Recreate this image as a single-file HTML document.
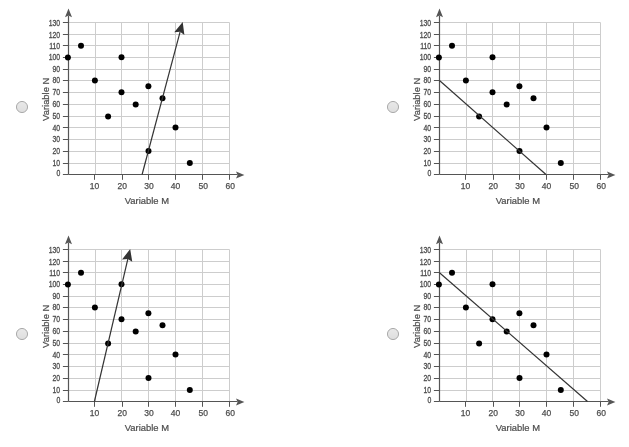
<!DOCTYPE html>
<html><head><meta charset="utf-8"><style>
html,body{margin:0;padding:0;background:#fff;width:629px;height:447px;overflow:hidden}
svg{display:block;will-change:transform}
.t{font-family:"Liberation Sans",sans-serif;font-size:8.3px;fill:#4d4d4d;stroke:#4d4d4d;stroke-width:0.3px}
.x{font-family:"Liberation Sans",sans-serif;font-size:8.5px;fill:#4d4d4d;stroke:#4d4d4d;stroke-width:0.25px}
.l{font-family:"Liberation Sans",sans-serif;font-size:9.3px;fill:#4d4d4d;stroke:#4d4d4d;stroke-width:0.22px}
</style></head><body>
<svg width="629" height="447" viewBox="0 0 629 447">
<defs><linearGradient id="rg" x1="0" y1="0" x2="0" y2="1"><stop offset="0" stop-color="#e9e9e9"/><stop offset="1" stop-color="#dedede"/></linearGradient></defs>
<g transform="translate(0,0)">
<path d="M95.5,174.5V22.5M121.5,174.5V22.5M148.5,174.5V22.5M175.5,174.5V22.5M202.5,174.5V22.5M229.5,174.5V22.5M68.5,163.5H229.5M68.5,151.5H229.5M68.5,139.5H229.5M68.5,127.5H229.5M68.5,116.5H229.5M68.5,104.5H229.5M68.5,92.5H229.5M68.5,80.5H229.5M68.5,69.5H229.5M68.5,57.5H229.5M68.5,45.5H229.5M68.5,34.5H229.5M68.5,22.5H229.5" stroke="#cdcdcd" stroke-width="1" fill="none"/>
<path d="M94.5,174.5V179.8M122.5,174.5V179.8M148.5,174.5V179.8M175.5,174.5V179.8M202.5,174.5V179.8M229.5,174.5V179.8M62.9,174.5H68.5M62.9,163.5H68.5M62.9,151.5H68.5M62.9,139.5H68.5M62.9,127.5H68.5M62.9,116.5H68.5M62.9,104.5H68.5M62.9,92.5H68.5M62.9,80.5H68.5M62.9,69.5H68.5M62.9,57.5H68.5M62.9,45.5H68.5M62.9,34.5H68.5M62.9,22.5H68.5" stroke="#555" stroke-width="1" fill="none"/>
<path d="M68.5,174.5V15.5M68.5,174.5H237.5" stroke="#555" stroke-width="1.2" fill="none"/>
<path d="M68.5,8.5L72,17.2L68.5,15.6L65,17.2Z" fill="#555"/>
<path d="M244.4,175L236,171.5L237.6,175L236,178.5Z" fill="#555"/>
<text transform="translate(60.2,176.07) scale(0.83,1)" text-anchor="end" class="t">0</text>
<text transform="translate(60.2,165.77) scale(0.83,1)" text-anchor="end" class="t">10</text>
<text transform="translate(60.2,154.07) scale(0.83,1)" text-anchor="end" class="t">20</text>
<text transform="translate(60.2,142.27) scale(0.83,1)" text-anchor="end" class="t">30</text>
<text transform="translate(60.2,130.57) scale(0.83,1)" text-anchor="end" class="t">40</text>
<text transform="translate(60.2,119.17) scale(0.83,1)" text-anchor="end" class="t">50</text>
<text transform="translate(60.2,107.27) scale(0.83,1)" text-anchor="end" class="t">60</text>
<text transform="translate(60.2,95.27) scale(0.83,1)" text-anchor="end" class="t">70</text>
<text transform="translate(60.2,83.27) scale(0.83,1)" text-anchor="end" class="t">80</text>
<text transform="translate(60.2,71.97) scale(0.83,1)" text-anchor="end" class="t">90</text>
<text transform="translate(60.2,59.97) scale(0.83,1)" text-anchor="end" class="t">100</text>
<text transform="translate(60.2,48.77) scale(0.83,1)" text-anchor="end" class="t">110</text>
<text transform="translate(60.2,37.67) scale(0.83,1)" text-anchor="end" class="t">120</text>
<text transform="translate(60.2,25.87) scale(0.83,1)" text-anchor="end" class="t">130</text>
<text x="94.6" y="189.2" text-anchor="middle" class="x">10</text>
<text x="122.2" y="189.2" text-anchor="middle" class="x">20</text>
<text x="149.1" y="189.2" text-anchor="middle" class="x">30</text>
<text x="175.4" y="189.2" text-anchor="middle" class="x">40</text>
<text x="203.3" y="189.2" text-anchor="middle" class="x">50</text>
<text x="230.2" y="189.2" text-anchor="middle" class="x">60</text>
<text x="146.9" y="203.9" text-anchor="middle" class="l" style="font-size:9.8px" textLength="44.2" lengthAdjust="spacingAndGlyphs">Variable M</text>
<text transform="translate(49.4,99.3) rotate(-90)" text-anchor="middle" class="l" style="font-size:9.5px" textLength="43.2" lengthAdjust="spacingAndGlyphs">Variable N</text>
<circle cx="67.9" cy="57.4" r="3" fill="#000"/>
<circle cx="81" cy="45.8" r="3" fill="#000"/>
<circle cx="94.9" cy="80.6" r="3" fill="#000"/>
<circle cx="108.1" cy="116.4" r="3" fill="#000"/>
<circle cx="121.5" cy="57.3" r="3" fill="#000"/>
<circle cx="121.5" cy="92.3" r="3" fill="#000"/>
<circle cx="135.7" cy="104.4" r="3" fill="#000"/>
<circle cx="148.4" cy="86.2" r="3" fill="#000"/>
<circle cx="148.5" cy="151.1" r="3" fill="#000"/>
<circle cx="162.5" cy="98.3" r="3" fill="#000"/>
<circle cx="175.5" cy="127.5" r="3" fill="#000"/>
<circle cx="189.8" cy="163" r="3" fill="#000"/>
<path d="M142.1,174.5L180.08,31.87" stroke="#333" stroke-width="1.2" fill="none"/>
<path d="M182.7,22.01L184.4,34.88L180.08,31.87L174.25,32.18Z" fill="#333"/>
</g>
<g transform="translate(371,0)">
<path d="M95.5,174.5V22.5M121.5,174.5V22.5M148.5,174.5V22.5M175.5,174.5V22.5M202.5,174.5V22.5M229.5,174.5V22.5M68.5,163.5H229.5M68.5,151.5H229.5M68.5,139.5H229.5M68.5,127.5H229.5M68.5,116.5H229.5M68.5,104.5H229.5M68.5,92.5H229.5M68.5,80.5H229.5M68.5,69.5H229.5M68.5,57.5H229.5M68.5,45.5H229.5M68.5,34.5H229.5M68.5,22.5H229.5" stroke="#cdcdcd" stroke-width="1" fill="none"/>
<path d="M94.5,174.5V179.8M122.5,174.5V179.8M148.5,174.5V179.8M175.5,174.5V179.8M202.5,174.5V179.8M229.5,174.5V179.8M62.9,174.5H68.5M62.9,163.5H68.5M62.9,151.5H68.5M62.9,139.5H68.5M62.9,127.5H68.5M62.9,116.5H68.5M62.9,104.5H68.5M62.9,92.5H68.5M62.9,80.5H68.5M62.9,69.5H68.5M62.9,57.5H68.5M62.9,45.5H68.5M62.9,34.5H68.5M62.9,22.5H68.5" stroke="#555" stroke-width="1" fill="none"/>
<path d="M68.5,174.5V15.5M68.5,174.5H237.5" stroke="#555" stroke-width="1.2" fill="none"/>
<path d="M68.5,8.5L72,17.2L68.5,15.6L65,17.2Z" fill="#555"/>
<path d="M244.4,175L236,171.5L237.6,175L236,178.5Z" fill="#555"/>
<text transform="translate(60.2,176.07) scale(0.83,1)" text-anchor="end" class="t">0</text>
<text transform="translate(60.2,165.77) scale(0.83,1)" text-anchor="end" class="t">10</text>
<text transform="translate(60.2,154.07) scale(0.83,1)" text-anchor="end" class="t">20</text>
<text transform="translate(60.2,142.27) scale(0.83,1)" text-anchor="end" class="t">30</text>
<text transform="translate(60.2,130.57) scale(0.83,1)" text-anchor="end" class="t">40</text>
<text transform="translate(60.2,119.17) scale(0.83,1)" text-anchor="end" class="t">50</text>
<text transform="translate(60.2,107.27) scale(0.83,1)" text-anchor="end" class="t">60</text>
<text transform="translate(60.2,95.27) scale(0.83,1)" text-anchor="end" class="t">70</text>
<text transform="translate(60.2,83.27) scale(0.83,1)" text-anchor="end" class="t">80</text>
<text transform="translate(60.2,71.97) scale(0.83,1)" text-anchor="end" class="t">90</text>
<text transform="translate(60.2,59.97) scale(0.83,1)" text-anchor="end" class="t">100</text>
<text transform="translate(60.2,48.77) scale(0.83,1)" text-anchor="end" class="t">110</text>
<text transform="translate(60.2,37.67) scale(0.83,1)" text-anchor="end" class="t">120</text>
<text transform="translate(60.2,25.87) scale(0.83,1)" text-anchor="end" class="t">130</text>
<text x="94.6" y="189.2" text-anchor="middle" class="x">10</text>
<text x="122.2" y="189.2" text-anchor="middle" class="x">20</text>
<text x="149.1" y="189.2" text-anchor="middle" class="x">30</text>
<text x="175.4" y="189.2" text-anchor="middle" class="x">40</text>
<text x="203.3" y="189.2" text-anchor="middle" class="x">50</text>
<text x="230.2" y="189.2" text-anchor="middle" class="x">60</text>
<text x="146.9" y="203.9" text-anchor="middle" class="l" style="font-size:9.8px" textLength="44.2" lengthAdjust="spacingAndGlyphs">Variable M</text>
<text transform="translate(49.4,99.3) rotate(-90)" text-anchor="middle" class="l" style="font-size:9.5px" textLength="43.2" lengthAdjust="spacingAndGlyphs">Variable N</text>
<circle cx="67.9" cy="57.4" r="3" fill="#000"/>
<circle cx="81" cy="45.8" r="3" fill="#000"/>
<circle cx="94.9" cy="80.6" r="3" fill="#000"/>
<circle cx="108.1" cy="116.4" r="3" fill="#000"/>
<circle cx="121.5" cy="57.3" r="3" fill="#000"/>
<circle cx="121.5" cy="92.3" r="3" fill="#000"/>
<circle cx="135.7" cy="104.4" r="3" fill="#000"/>
<circle cx="148.4" cy="86.2" r="3" fill="#000"/>
<circle cx="148.5" cy="151.1" r="3" fill="#000"/>
<circle cx="162.5" cy="98.3" r="3" fill="#000"/>
<circle cx="175.5" cy="127.5" r="3" fill="#000"/>
<circle cx="189.8" cy="163" r="3" fill="#000"/>
<path d="M68.5,80.5L175,174.5" stroke="#333" stroke-width="1.2" fill="none"/>
</g>
<g transform="translate(0,227)">
<path d="M95.5,174.5V22.5M121.5,174.5V22.5M148.5,174.5V22.5M175.5,174.5V22.5M202.5,174.5V22.5M229.5,174.5V22.5M68.5,163.5H229.5M68.5,151.5H229.5M68.5,139.5H229.5M68.5,127.5H229.5M68.5,116.5H229.5M68.5,104.5H229.5M68.5,92.5H229.5M68.5,80.5H229.5M68.5,69.5H229.5M68.5,57.5H229.5M68.5,45.5H229.5M68.5,34.5H229.5M68.5,22.5H229.5" stroke="#cdcdcd" stroke-width="1" fill="none"/>
<path d="M94.5,174.5V179.8M122.5,174.5V179.8M148.5,174.5V179.8M175.5,174.5V179.8M202.5,174.5V179.8M229.5,174.5V179.8M62.9,174.5H68.5M62.9,163.5H68.5M62.9,151.5H68.5M62.9,139.5H68.5M62.9,127.5H68.5M62.9,116.5H68.5M62.9,104.5H68.5M62.9,92.5H68.5M62.9,80.5H68.5M62.9,69.5H68.5M62.9,57.5H68.5M62.9,45.5H68.5M62.9,34.5H68.5M62.9,22.5H68.5" stroke="#555" stroke-width="1" fill="none"/>
<path d="M68.5,174.5V15.5M68.5,174.5H237.5" stroke="#555" stroke-width="1.2" fill="none"/>
<path d="M68.5,8.5L72,17.2L68.5,15.6L65,17.2Z" fill="#555"/>
<path d="M244.4,175L236,171.5L237.6,175L236,178.5Z" fill="#555"/>
<text transform="translate(60.2,176.07) scale(0.83,1)" text-anchor="end" class="t">0</text>
<text transform="translate(60.2,165.77) scale(0.83,1)" text-anchor="end" class="t">10</text>
<text transform="translate(60.2,154.07) scale(0.83,1)" text-anchor="end" class="t">20</text>
<text transform="translate(60.2,142.27) scale(0.83,1)" text-anchor="end" class="t">30</text>
<text transform="translate(60.2,130.57) scale(0.83,1)" text-anchor="end" class="t">40</text>
<text transform="translate(60.2,119.17) scale(0.83,1)" text-anchor="end" class="t">50</text>
<text transform="translate(60.2,107.27) scale(0.83,1)" text-anchor="end" class="t">60</text>
<text transform="translate(60.2,95.27) scale(0.83,1)" text-anchor="end" class="t">70</text>
<text transform="translate(60.2,83.27) scale(0.83,1)" text-anchor="end" class="t">80</text>
<text transform="translate(60.2,71.97) scale(0.83,1)" text-anchor="end" class="t">90</text>
<text transform="translate(60.2,59.97) scale(0.83,1)" text-anchor="end" class="t">100</text>
<text transform="translate(60.2,48.77) scale(0.83,1)" text-anchor="end" class="t">110</text>
<text transform="translate(60.2,37.67) scale(0.83,1)" text-anchor="end" class="t">120</text>
<text transform="translate(60.2,25.87) scale(0.83,1)" text-anchor="end" class="t">130</text>
<text x="94.6" y="189.2" text-anchor="middle" class="x">10</text>
<text x="122.2" y="189.2" text-anchor="middle" class="x">20</text>
<text x="149.1" y="189.2" text-anchor="middle" class="x">30</text>
<text x="175.4" y="189.2" text-anchor="middle" class="x">40</text>
<text x="203.3" y="189.2" text-anchor="middle" class="x">50</text>
<text x="230.2" y="189.2" text-anchor="middle" class="x">60</text>
<text x="146.9" y="203.9" text-anchor="middle" class="l" style="font-size:9.8px" textLength="44.2" lengthAdjust="spacingAndGlyphs">Variable M</text>
<text transform="translate(49.4,99.3) rotate(-90)" text-anchor="middle" class="l" style="font-size:9.5px" textLength="43.2" lengthAdjust="spacingAndGlyphs">Variable N</text>
<circle cx="67.9" cy="57.4" r="3" fill="#000"/>
<circle cx="81" cy="45.8" r="3" fill="#000"/>
<circle cx="94.9" cy="80.6" r="3" fill="#000"/>
<circle cx="108.1" cy="116.4" r="3" fill="#000"/>
<circle cx="121.5" cy="57.3" r="3" fill="#000"/>
<circle cx="121.5" cy="92.3" r="3" fill="#000"/>
<circle cx="135.7" cy="104.4" r="3" fill="#000"/>
<circle cx="148.4" cy="86.2" r="3" fill="#000"/>
<circle cx="148.5" cy="151.1" r="3" fill="#000"/>
<circle cx="162.5" cy="98.3" r="3" fill="#000"/>
<circle cx="175.5" cy="127.5" r="3" fill="#000"/>
<circle cx="189.8" cy="163" r="3" fill="#000"/>
<path d="M94.4,174.5L127.86,31.94" stroke="#333" stroke-width="1.2" fill="none"/>
<path d="M130.19,22.01L132.27,34.82L127.86,31.94L122.05,32.42Z" fill="#333"/>
</g>
<g transform="translate(371,227)">
<path d="M95.5,174.5V22.5M121.5,174.5V22.5M148.5,174.5V22.5M175.5,174.5V22.5M202.5,174.5V22.5M229.5,174.5V22.5M68.5,163.5H229.5M68.5,151.5H229.5M68.5,139.5H229.5M68.5,127.5H229.5M68.5,116.5H229.5M68.5,104.5H229.5M68.5,92.5H229.5M68.5,80.5H229.5M68.5,69.5H229.5M68.5,57.5H229.5M68.5,45.5H229.5M68.5,34.5H229.5M68.5,22.5H229.5" stroke="#cdcdcd" stroke-width="1" fill="none"/>
<path d="M94.5,174.5V179.8M122.5,174.5V179.8M148.5,174.5V179.8M175.5,174.5V179.8M202.5,174.5V179.8M229.5,174.5V179.8M62.9,174.5H68.5M62.9,163.5H68.5M62.9,151.5H68.5M62.9,139.5H68.5M62.9,127.5H68.5M62.9,116.5H68.5M62.9,104.5H68.5M62.9,92.5H68.5M62.9,80.5H68.5M62.9,69.5H68.5M62.9,57.5H68.5M62.9,45.5H68.5M62.9,34.5H68.5M62.9,22.5H68.5" stroke="#555" stroke-width="1" fill="none"/>
<path d="M68.5,174.5V15.5M68.5,174.5H237.5" stroke="#555" stroke-width="1.2" fill="none"/>
<path d="M68.5,8.5L72,17.2L68.5,15.6L65,17.2Z" fill="#555"/>
<path d="M244.4,175L236,171.5L237.6,175L236,178.5Z" fill="#555"/>
<text transform="translate(60.2,176.07) scale(0.83,1)" text-anchor="end" class="t">0</text>
<text transform="translate(60.2,165.77) scale(0.83,1)" text-anchor="end" class="t">10</text>
<text transform="translate(60.2,154.07) scale(0.83,1)" text-anchor="end" class="t">20</text>
<text transform="translate(60.2,142.27) scale(0.83,1)" text-anchor="end" class="t">30</text>
<text transform="translate(60.2,130.57) scale(0.83,1)" text-anchor="end" class="t">40</text>
<text transform="translate(60.2,119.17) scale(0.83,1)" text-anchor="end" class="t">50</text>
<text transform="translate(60.2,107.27) scale(0.83,1)" text-anchor="end" class="t">60</text>
<text transform="translate(60.2,95.27) scale(0.83,1)" text-anchor="end" class="t">70</text>
<text transform="translate(60.2,83.27) scale(0.83,1)" text-anchor="end" class="t">80</text>
<text transform="translate(60.2,71.97) scale(0.83,1)" text-anchor="end" class="t">90</text>
<text transform="translate(60.2,59.97) scale(0.83,1)" text-anchor="end" class="t">100</text>
<text transform="translate(60.2,48.77) scale(0.83,1)" text-anchor="end" class="t">110</text>
<text transform="translate(60.2,37.67) scale(0.83,1)" text-anchor="end" class="t">120</text>
<text transform="translate(60.2,25.87) scale(0.83,1)" text-anchor="end" class="t">130</text>
<text x="94.6" y="189.2" text-anchor="middle" class="x">10</text>
<text x="122.2" y="189.2" text-anchor="middle" class="x">20</text>
<text x="149.1" y="189.2" text-anchor="middle" class="x">30</text>
<text x="175.4" y="189.2" text-anchor="middle" class="x">40</text>
<text x="203.3" y="189.2" text-anchor="middle" class="x">50</text>
<text x="230.2" y="189.2" text-anchor="middle" class="x">60</text>
<text x="146.9" y="203.9" text-anchor="middle" class="l" style="font-size:9.8px" textLength="44.2" lengthAdjust="spacingAndGlyphs">Variable M</text>
<text transform="translate(49.4,99.3) rotate(-90)" text-anchor="middle" class="l" style="font-size:9.5px" textLength="43.2" lengthAdjust="spacingAndGlyphs">Variable N</text>
<circle cx="67.9" cy="57.4" r="3" fill="#000"/>
<circle cx="81" cy="45.8" r="3" fill="#000"/>
<circle cx="94.9" cy="80.6" r="3" fill="#000"/>
<circle cx="108.1" cy="116.4" r="3" fill="#000"/>
<circle cx="121.5" cy="57.3" r="3" fill="#000"/>
<circle cx="121.5" cy="92.3" r="3" fill="#000"/>
<circle cx="135.7" cy="104.4" r="3" fill="#000"/>
<circle cx="148.4" cy="86.2" r="3" fill="#000"/>
<circle cx="148.5" cy="151.1" r="3" fill="#000"/>
<circle cx="162.5" cy="98.3" r="3" fill="#000"/>
<circle cx="175.5" cy="127.5" r="3" fill="#000"/>
<circle cx="189.8" cy="163" r="3" fill="#000"/>
<path d="M68.5,45.7L216.5,174.5" stroke="#333" stroke-width="1.2" fill="none"/>
</g>
<circle cx="22" cy="107" r="5.55" fill="url(#rg)" stroke="#a9a9a9" stroke-width="1"/>
<circle cx="393" cy="107" r="5.55" fill="url(#rg)" stroke="#a9a9a9" stroke-width="1"/>
<circle cx="22" cy="334" r="5.55" fill="url(#rg)" stroke="#a9a9a9" stroke-width="1"/>
<circle cx="393" cy="334" r="5.55" fill="url(#rg)" stroke="#a9a9a9" stroke-width="1"/>
</svg>
</body></html>
